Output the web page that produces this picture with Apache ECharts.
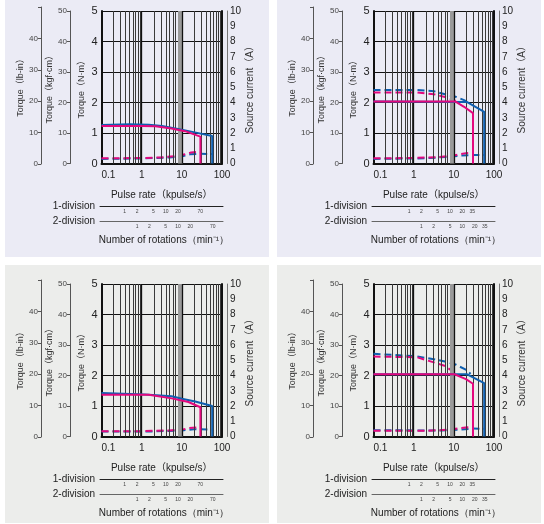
<!DOCTYPE html>
<html><head><meta charset="utf-8">
<script src="https://cdn.jsdelivr.net/npm/echarts@6/dist/echarts.min.js"></script>
<style>html,body{margin:0;padding:0;background:#fff}#c{width:544px;height:524px}</style>
</head><body><div id="c"></div>
<script>
// ---------- data (pulse rate kpulse/s, torque N·m / current A) ----------
const xLabels = [0.1, 1, 10, 100];
const xGridMinor = [0.2,0.3,0.4,0.5,0.6,0.7,0.8,0.9,2,3,4,5,6,7,20,30,40,50,60,70,80,90];
const xGridMajor = [1, 10];
const xGridBand = [8, 8.5, 9, 9.5, 10.5];

const div1LabelsA = [1, 2, 5, 10, 20, 70];
const div2LabelsA = [1, 2, 5, 10, 20, 70];
const div1LabelsB = [1, 2, 5, 10, 20, 35];
const div2LabelsB = [1, 2, 5, 10, 20, 35];

// Panel A (top-left)
const blueTorqueA = [[0.1,1.26],[0.5,1.29],[1.5,1.27],[3.2,1.23],[8,1.13],[21,1.02],[57,0.9],[57,0]];
const pinkTorqueA = [[0.1,1.23],[1,1.23],[2.2,1.22],[5.5,1.15],[12,1.06],[29,0.88],[29,0]];
const blueCurrentA = [[0.1,0.3],[1,0.33],[5,0.4],[10,0.48],[16,0.6],[30,0.64],[57,0.62]];
const pinkCurrentA = [[0.1,0.34],[1,0.36],[3,0.4],[8,0.5],[12,0.6],[17,0.72],[24,0.76],[29,0.74]];

// Panel B (top-right)
const blueTorqueB = [[0.1,2.03],[21,2.02],[57,1.69],[57,0]];
const pinkTorqueB = [[0.1,2.03],[11,2.03],[18,1.86],[30,1.65],[30,0]];
const blueTorqueDashB = [[0.1,2.41],[1.2,2.41],[3.2,2.37],[6.8,2.25],[11,2.19],[18,2.08],[21.5,2.02]];
const pinkTorqueDashB = [[0.1,2.33],[1.2,2.33],[3.2,2.27],[6.8,2.16],[11,2.05]];
const blueCurrentB = [[0.1,0.3],[2,0.34],[8,0.45],[15,0.52],[30,0.56],[57,0.56]];
const pinkCurrentB = [[0.1,0.34],[1,0.36],[4,0.42],[10,0.52],[15,0.62],[20,0.68],[30,0.7]];

// Panel C (bottom-left)
const blueTorqueC = [[0.1,1.43],[1.2,1.38],[5.6,1.32],[10,1.24],[21.5,1.15],[57,1.0],[57,0]];
const pinkTorqueC = [[0.1,1.37],[1.5,1.37],[5.6,1.25],[14.6,1.13],[29,0.96],[29,0]];
const blueCurrentC = [[0.1,0.33],[2,0.33],[10,0.4],[20,0.48],[55,0.45]];
const pinkCurrentC = [[0.1,0.35],[1,0.35],[5,0.4],[10,0.45],[15,0.55],[25,0.6],[29,0.55]];

// Panel D (bottom-right)
const blueTorqueD = [[0.1,2.04],[21.5,2.04],[57,1.75],[57,0]];
const pinkTorqueD = [[0.1,2.04],[10.4,2.04],[20,1.88],[30,1.73],[30,0]];
const blueTorqueDashD = [[0.1,2.71],[1.2,2.63],[5.6,2.47],[11,2.36],[21.5,2.17],[26,2.05]];
const pinkTorqueDashD = [[0.1,2.62],[1.2,2.6],[5.6,2.33],[8.7,2.17],[10.4,2.05]];
const blueCurrentD = [[0.1,0.41],[1,0.4],[5,0.4],[15,0.45],[30,0.52],[57,0.5]];
const pinkCurrentD = [[0.1,0.37],[2,0.37],[8,0.45],[15,0.55],[22,0.6],[30,0.58]];

// ---------- layout ----------
const FONT = "'Liberation Sans', Arial, 'Noto Sans CJK JP', sans-serif";
const BLUE = '#0F5FAF', PINK = '#E4087E', INK = '#222';
const panels = [
  {dx:0, dy:0, bg:{x:5,y:0,w:264,h:257,c:'#EBEBF5'}, k1:0.4, k2:0.8, d1:div1LabelsA, d2:div2LabelsA,
   bt:blueTorqueA, pt:pinkTorqueA, bd:null, pd:null, bc:blueCurrentA, pc:pinkCurrentA},
  {dx:272, dy:0, bg:{x:277,y:0,w:264,h:257,c:'#EBEBF5'}, k1:0.8, k2:1.6, d1:div1LabelsB, d2:div2LabelsB,
   bt:blueTorqueB, pt:pinkTorqueB, bd:blueTorqueDashB, pd:pinkTorqueDashB, bc:blueCurrentB, pc:pinkCurrentB},
  {dx:0, dy:273, bg:{x:5,y:265,w:264,h:258,c:'#ECEDEB'}, k1:0.4, k2:0.8, d1:div1LabelsA, d2:div2LabelsA,
   bt:blueTorqueC, pt:pinkTorqueC, bd:null, pd:null, bc:blueCurrentC, pc:pinkCurrentC},
  {dx:272, dy:273, bg:{x:277,y:265,w:264,h:258,c:'#ECEDEB'}, k1:0.8, k2:1.6, d1:div1LabelsB, d2:div2LabelsB,
   bt:blueTorqueD, pt:pinkTorqueD, bd:blueTorqueDashD, pd:pinkTorqueDashD, bc:blueCurrentD, pc:pinkCurrentD}
];

const option = {animation:false, textStyle:{fontFamily:FONT}, grid:[], xAxis:[], yAxis:[], series:[], graphic:[]};
const hiddenX = gi => ({gridIndex:gi, type:'value', show:false});
const hiddenY = gi => ({gridIndex:gi, type:'value', show:false});

function sideAxis(gi, name, gap, hideTop) {
  return {gridIndex:gi, type:'value', min:0, max:50, interval:10, position:'left',
    axisLine:{show:true, lineStyle:{color:'#555', width:1}},
    axisTick:{show:true, length:3, lineStyle:{color:'#555'}},
    axisLabel:{fontSize:8, color:'#444', margin:3, formatter: v => (hideTop && v === 50) ? '' : String(v)},
    splitLine:{show:false},
    name:name, nameLocation:'middle', nameGap:gap, nameRotate:90,
    nameTextStyle:{fontSize:9, color:'#333', fontFamily:FONT}};
}
function divAxis(gi, k, labels, name, color) {
  return {gridIndex:gi, type:'log', logBase:10, min:0.1/k, max:100/k, position:'bottom',
    axisLine:{show:true, lineStyle:{color:color, width:1}}, axisTick:{show:false},
    splitLine:{show:false}, minorTick:{show:false}, minorSplitLine:{show:false},
    axisLabel:{customValues:labels, fontSize:5, color:'#444', margin:3, formatter: v => String(Math.round(v))},
    name:name, nameLocation:'start', nameGap:5, nameTextStyle:{fontSize:10, color:INK, fontFamily:FONT}};
}
function lineSeries(xi, yi, data, color, dashed, z) {
  return {type:'line', xAxisIndex:xi, yAxisIndex:yi, data:data, showSymbol:false, symbol:'none',
    lineStyle:{color:color, width:2, type: dashed ? [7,4] : 'solid'}, z:z, silent:true};
}

panels.forEach(p => {
  const dx = p.dx, dy = p.dy;
  option.graphic.push({type:'rect', z:-10, shape:{x:p.bg.x, y:p.bg.y, width:p.bg.w, height:p.bg.h}, style:{fill:p.bg.c}});
  // main grid
  const g = option.grid.length;
  option.grid.push({left:dx+101.5, top:dy+11, width:120.5, height:152.5});
  const xi = option.xAxis.length;
  option.xAxis.push({gridIndex:g, type:'log', logBase:10, min:0.1, max:100,
    axisLine:{show:true, lineStyle:{color:'#111', width:2}}, axisTick:{show:false},
    axisLabel:{fontSize:10, color:INK, margin:7, alignMinLabel:'left', formatter: v => String(v)},
    splitLine:{show:false}, minorTick:{show:false}, minorSplitLine:{show:false},
    name:'Pulse rate（kpulse/s）', nameLocation:'middle', nameGap:27,
    nameTextStyle:{fontSize:10, color:INK, fontFamily:FONT}});
  const yi = option.yAxis.length;
  option.yAxis.push({gridIndex:g, type:'value', min:0, max:5, interval:1, position:'left',
    axisLine:{show:true, lineStyle:{color:'#111', width:2}}, axisTick:{show:false},
    axisLabel:{fontSize:11, color:INK, margin:4},
    splitLine:{show:true, lineStyle:{color:'#111', width:1}},
    name:'Torque（N·m）', nameLocation:'middle', nameGap:15, nameRotate:90,
    nameTextStyle:{fontSize:9, color:'#333', fontFamily:FONT}});
  option.yAxis.push({gridIndex:g, type:'value', min:0, max:10, interval:1, position:'right', offset:5,
    axisLine:{show:true, lineStyle:{color:'#777', width:1}}, axisTick:{show:false},
    axisLabel:{fontSize:10, color:INK, margin:3},
    splitLine:{show:false},
    name:'Source current（A）', nameLocation:'middle', nameGap:14, nameRotate:90,
    nameTextStyle:{fontSize:10, color:'#333', fontFamily:FONT}});
  // right edge frame line of plot (torque axis mirror)
  option.yAxis.push({gridIndex:g, type:'value', min:0, max:5, position:'right', offset:0,
    axisLine:{show:true, lineStyle:{color:'#111', width:2}}, axisTick:{show:false}, axisLabel:{show:false}, splitLine:{show:false}});
  // vertical grid lines
  const ml = (vals, color, width) => ({type:'line', xAxisIndex:xi, yAxisIndex:yi, data:[], z:1, silent:true,
    markLine:{silent:true, symbol:'none', label:{show:false}, animation:false,
      lineStyle:{color:color, width:width, type:'solid'}, data: vals.map(v => ({xAxis:v}))}});
  option.series.push(ml(xGridBand, '#9a9a9a', 1));
  option.series.push(ml(xGridMinor, '#3a3a3a', 1));
  option.series.push(ml(xGridMajor, '#111', 1.3));
  // curves
  option.series.push(lineSeries(xi, yi+1, p.bc, BLUE, true, 3));
  option.series.push(lineSeries(xi, yi+1, p.pc, PINK, true, 3));
  if (p.bd) option.series.push(lineSeries(xi, yi, p.bd, BLUE, true, 4));
  if (p.pd) option.series.push(lineSeries(xi, yi, p.pd, PINK, true, 4));
  option.series.push(lineSeries(xi, yi, p.bt, BLUE, false, 5));
  option.series.push(lineSeries(xi, yi, p.pt, PINK, false, 6));

  // kgf·cm axis
  let gk = option.grid.length;
  option.grid.push({left:dx+70, top:dy+11, width:1, height:152.5});
  option.xAxis.push(hiddenX(gk));
  option.yAxis.push(sideAxis(gk, 'Torque（kgf·cm）', 13, false));
  // lb-in axis
  let gl = option.grid.length;
  option.grid.push({left:dx+41, top:dy+7, width:1, height:157});
  option.xAxis.push(hiddenX(gl));
  option.yAxis.push(sideAxis(gl, 'Torque（lb-in）', 14, true));

  // division axes
  let g1 = option.grid.length;
  option.grid.push({left:dx+100, top:dy+205, width:123, height:1});
  option.xAxis.push(divAxis(g1, p.k1, p.d1, '1-division', '#222'));
  option.yAxis.push(hiddenY(g1));
  let g2 = option.grid.length;
  option.grid.push({left:dx+100, top:dy+220.5, width:123, height:1});
  option.xAxis.push(divAxis(g2, p.k2, p.d2, '2-division', '#666'));
  option.yAxis.push(hiddenY(g2));
  option.graphic.push({type:'text', x:dx+164, y:dy+240.5, style:{text:'Number of rotations（min⁻¹）',
    fontSize:10, fill:INK, font:'10px ' + FONT, align:'center', verticalAlign:'middle'}});
});

const chart = echarts.init(document.getElementById('c'), null, {renderer:'canvas'});
chart.setOption(option);
</script></body></html>
